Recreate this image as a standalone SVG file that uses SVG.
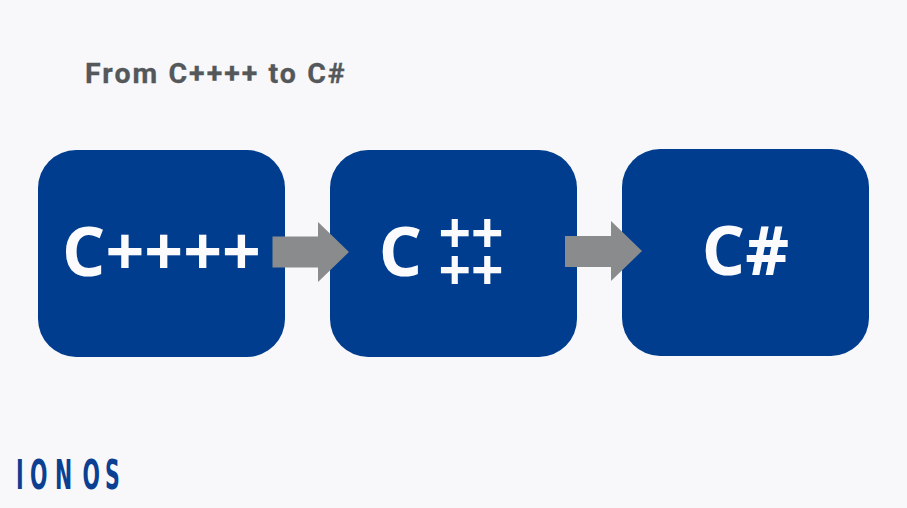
<svg xmlns="http://www.w3.org/2000/svg" width="907" height="508" viewBox="0 0 907 508">
<style>
.box{fill:#003d8f}
.t{font-family:"Open Sans","Liberation Sans",sans-serif;font-weight:700;fill:#fbfbfd;text-anchor:middle}
.a{fill:#898b8d}
</style>
<rect width="907" height="508" fill="#f8f8fa"/>
<text id="title" x="85" y="83" font-family="Roboto,'Liberation Sans',sans-serif" font-weight="700" font-size="28.500" letter-spacing="2.05" stroke="#54585a" stroke-width="0.3" fill="#54585a">From C++++ to C#</text>
<g id="node-cpp4"><rect class="box" x="38" y="150" width="247" height="207" rx="38"/><text class="t" x="161.500" y="276" font-size="68">C++++</text></g>
<g id="node-cpp2"><rect class="box" x="330" y="150" width="247" height="207" rx="38"/><text class="t" x="400.500" y="276" font-size="68">C</text><text class="t" x="471" y="253" font-size="57">++</text><text class="t" x="471" y="290" font-size="57">++</text></g>
<g id="node-csharp"><rect class="box" x="622" y="149" width="247" height="207" rx="38"/><text class="t" x="745.500" y="275" font-size="68">C#</text></g>
<g id="connectors">
<polygon class="a" points="272.500,236.500 318,236.500 318,222 349,252 318,282 318,267.500 272.500,267.500"/>
<polygon class="a" points="565,236 611,236 611,221 642,251 611,281 611,267 565,267"/>
</g>
<g id="logo"><text transform="translate(0,489) scale(.5,1)" y="0" x="32 60 110 165 210" font-family="'DejaVu Sans',sans-serif" font-weight="700" font-size="41" fill="#0b3f92">IONOS</text></g>
</svg>
